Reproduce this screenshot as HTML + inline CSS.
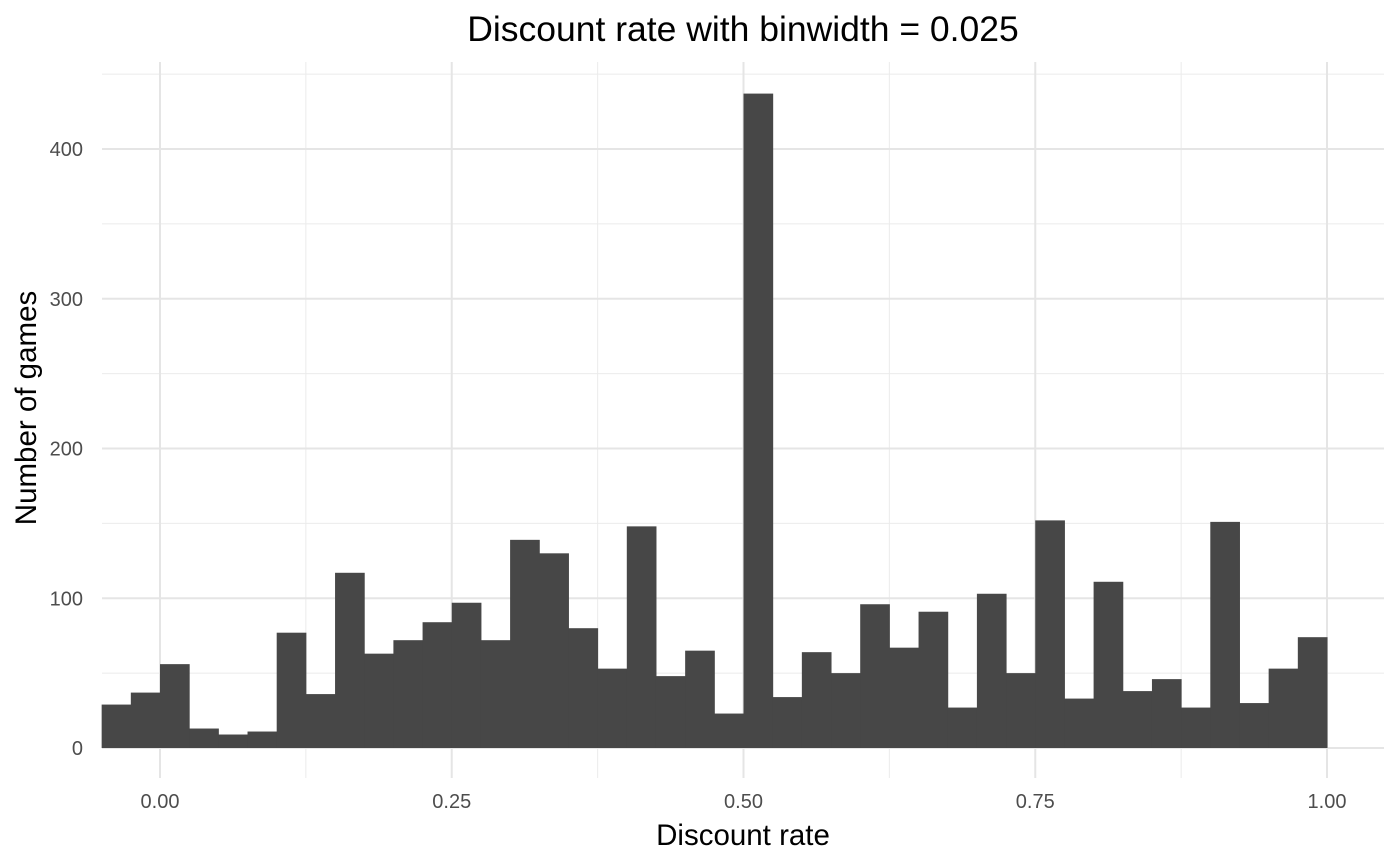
<!DOCTYPE html>
<html><head><meta charset="utf-8"><style>
html,body{margin:0;padding:0;background:#fff}
svg{display:block;font-family:"Liberation Sans",Arial,sans-serif}
</style></head><body>
<svg id="chart" width="1400" height="865">
<text x="743" y="41" text-anchor="middle" font-size="35.5" fill="#000">Discount rate with binwidth = 0.025</text>
<g id="grid"></g><g id="bars"></g><g id="ticks"></g>
<text x="743" y="845" text-anchor="middle" font-size="29.5" fill="#000">Discount rate</text>
<text transform="translate(36,408) rotate(-90)" text-anchor="middle" font-size="29.5" fill="#000">Number of games</text>
</svg>
<script>
const binStart = -0.05;
const binWidth = 0.025;
const counts = [29,37,56,13,9,11,77,36,117,63,72,84,97,72,139,130,80,53,148,48,65,23,437,34,64,50,96,67,91,27,103,50,152,33,111,38,46,27,151,30,53,74];
const xTicks = [0,0.25,0.5,0.75,1.0];
const xTickLabels = ["0.00","0.25","0.50","0.75","1.00"];
const yTicks = [0,100,200,300,400];
const ns="http://www.w3.org/2000/svg";
const X=v=>160+v*1167, Y=v=>748-v*1.4975;
const L=102,R=1384,T=62,B=778;
function mk(tag,attrs,parent){const e=document.createElementNS(ns,tag);for(const k in attrs)e.setAttribute(k,attrs[k]);parent.appendChild(e);return e;}
const grid=document.getElementById('grid'),bars=document.getElementById('bars'),ticks=document.getElementById('ticks');
for(let i=0;i<xTicks.length-1;i++){const m=(xTicks[i]+xTicks[i+1])/2;
 const g=mk('line',{x1:X(m),x2:X(m),y1:T,y2:B,stroke:'#ebebeb','stroke-width':1},grid);
 
 }
for(let i=0;i<yTicks.length;i++){const m=yTicks[i]+50;
 const g=mk('line',{x1:L,x2:R,y1:Y(m),y2:Y(m),stroke:'#ebebeb','stroke-width':1},grid);
 
 }
xTicks.forEach((t,i)=>{
 const g=mk('line',{x1:X(t),x2:X(t),y1:T,y2:B,stroke:'#e5e5e5','stroke-width':2},grid);
 
 
 const tx=mk('text',{x:X(t),y:808,'text-anchor':'middle','font-size':20,fill:'#4d4d4d'},ticks);
 tx.textContent=xTickLabels[i];
 
 });
yTicks.forEach(t=>{
 const g=mk('line',{x1:L,x2:R,y1:Y(t),y2:Y(t),stroke:'#e5e5e5','stroke-width':2},grid);
 
 
 const tx=mk('text',{x:83,y:Y(t)+7,'text-anchor':'end','font-size':20,fill:'#4d4d4d'},ticks);
 tx.textContent=String(t);
 
 });
counts.forEach((c,i)=>{
 const x0=X(binStart+i*binWidth),x1=X(binStart+(i+1)*binWidth);
 const r=mk('rect',{x:x0,y:Y(c),width:x1-x0+0.5,height:Y(0)-Y(c),fill:'#474747'},bars);
 
 });
</script>
</body></html>
